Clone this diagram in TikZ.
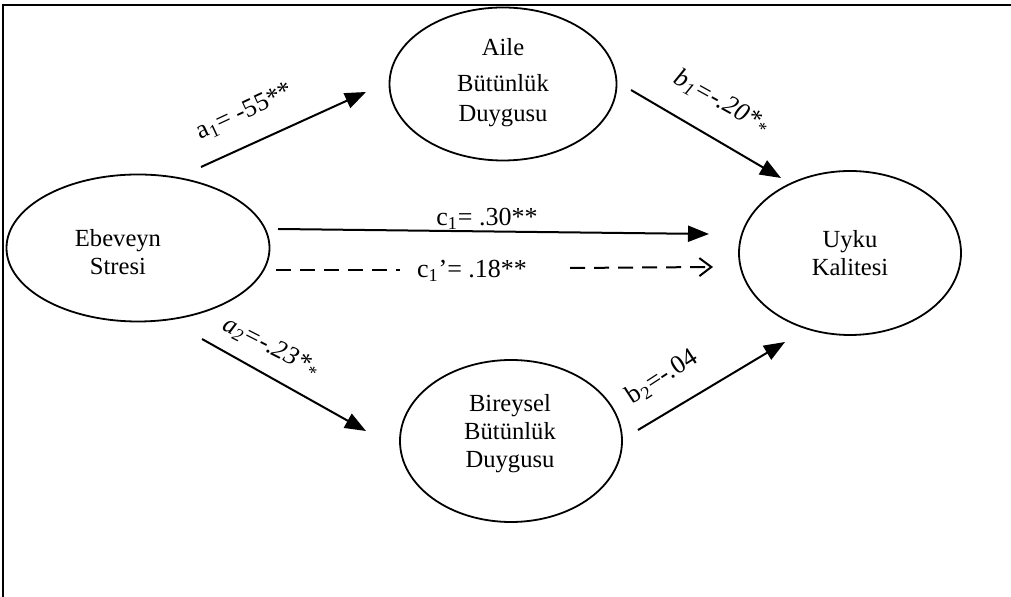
\documentclass[tikz,border=0pt]{standalone}
\usepackage{fontspec}
\setmainfont{Liberation Serif}
\usetikzlibrary{shapes.geometric,arrows.meta}
\begin{document}
\begin{tikzpicture}[x=0.5pt,y=-0.5pt,
  latent/.style={ellipse,draw,line width=0.9pt,inner sep=0pt},
  vtext/.style={font=\fontsize{12.3}{14}\selectfont,align=center,inner sep=0pt},
  coef/.style={font=\fontsize{13}{15}\selectfont,inner sep=0pt},
  effect/.style={line width=1pt,-{Triangle[length=10.5pt,width=8pt]}},
  direct/.style={line width=1pt,dash pattern=on 7.5pt off 4.5pt}]
\useasboundingbox (0,0) rectangle (1011,597);

% frame
\draw[line width=1.3pt] (3,597) -- (3,5) -- (1011,5);

% latent variables
\node[latent,minimum width=131.5pt,minimum height=73.5pt] (E) at (138,248) {};
\node[vtext] (Et) at (118,252) {Ebeveyn\\Stresi};
\node[latent,minimum width=113.5pt,minimum height=76.5pt] (A) at (503,84) {};
\node[vtext] (At) at (503,83) {Aile\\[4pt]Bütünlük\\[1pt]Duygusu};
\node[latent,minimum width=111pt,minimum height=82pt] (U) at (850,253) {};
\node[vtext] (Ut) at (850,253) {Uyku\\Kalitesi};
\node[latent,minimum width=111pt,minimum height=81pt] (B) at (511,441) {};
\node[vtext] (Bt) at (510,434) {Bireysel\\Bütünlük\\Duygusu};

% path end points
\coordinate (a1s) at (201,167); \coordinate (a1e) at (366,92);
\coordinate (b1s) at (631,90);  \coordinate (b1e) at (781,178);
\coordinate (a2s) at (202,339); \coordinate (a2e) at (366,431);
\coordinate (b2s) at (638,430); \coordinate (b2e) at (785,342);
\coordinate (cs) at (278,229);  \coordinate (ce) at (709,234);
\coordinate (d1s) at (276,270); \coordinate (d1e) at (400,270);
\coordinate (d2s) at (570,268); \coordinate (d2e) at (713,267);

% paths
\draw[effect] (a1s) -- (a1e);
\draw[effect] (b1s) -- (b1e);
\draw[effect] (a2s) -- (a2e);
\draw[effect] (b2s) -- (b2e);
\draw[effect] (cs) -- (ce);
\draw[direct] (d1s) -- (d1e);
\draw[direct,-{Straight Barb[length=6pt,width=9pt]}] (d2s) -- (d2e);

% coefficients
\node[coef,rotate=25] (la1) at (245,112) {a\textsubscript{1}= -55**};
\node[coef,rotate=-29] (lb1) at (722,102) {\textit{b\textsubscript{1}=-.20*\textsubscript{*}}};
\node[coef,rotate=-27] (la2) at (271,347) {\textit{a\textsubscript{2}=-.23*\textsubscript{*}}};
\node[coef,rotate=33] (lb2) at (662,377) {b\textsubscript{2}=-.04};
\node[coef] (lc) at (487,219) {c\textsubscript{1}= .30**};
\node[coef] (lcp) at (472,271) {c\textsubscript{1}’= .18**};
\end{tikzpicture}
\end{document}
